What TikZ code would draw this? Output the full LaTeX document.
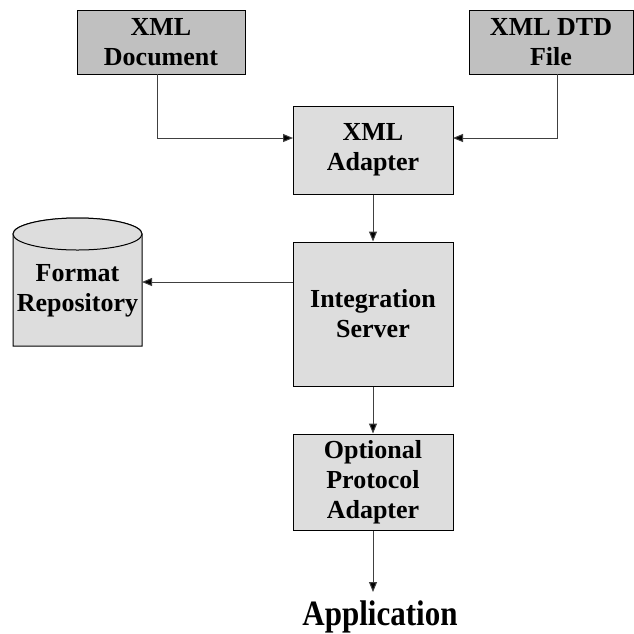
\documentclass[tikz,border=0pt]{standalone}
\usepackage{fontspec}
\usepackage{graphicx}
\setmainfont{Liberation Serif}
\usetikzlibrary{arrows.meta}
\definecolor{darkfill}{HTML}{C0C0C0}
\definecolor{lightfill}{HTML}{DDDDDD}
\definecolor{linegray}{HTML}{404040}
\begin{document}
\begin{tikzpicture}[x=1pt,y=-1pt,
  boxfont/.style={font=\bfseries\fontsize{26}{30}\selectfont},
  srcbox/.style={draw=black,line width=1pt,fill=darkfill,inner sep=0pt,align=center,boxfont},
  procbox/.style={draw=black,line width=1pt,fill=lightfill,inner sep=0pt,align=center,boxfont},
  conn/.style={draw=linegray,line width=1pt,-{Triangle[length=10pt,width=8pt,fill=black]}},
]
\useasboundingbox (0,0) rectangle (634,633);
\fill[white] (0,0) rectangle (634,633);

\node[srcbox,minimum width=168pt,minimum height=64pt] (doc) at (161,42) {XML\\Document};
\node[srcbox,minimum width=164pt,minimum height=64pt] (dtd) at (551,42) {XML DTD\\File};
\node[procbox,minimum width=160pt,minimum height=88pt] (adp) at (373,150) {XML\\Adapter};
\node[procbox,minimum width=160pt,minimum height=144pt] (int) at (373,314) {Integration\\Server};
\node[procbox,minimum width=160pt,minimum height=96pt] (opt) at (373,482) {Optional\\Protocol\\Adapter};

% cylinder
\filldraw[fill=lightfill,draw=black,line width=1pt]
  (13,234) -- (13,346) -- (142,346) -- (142,234)
  arc[start angle=0,end angle=-180,x radius=64.5pt,y radius=-16pt] -- cycle;
\draw[line width=1pt,fill=lightfill] (77.5,234) ellipse[x radius=64.5pt,y radius=16pt];
\node[boxfont,align=center,inner sep=0pt] (repo) at (77.5,291) {Format\\Repository};

\node[font=\bfseries\fontsize{31}{36}\selectfont,anchor=base,inner sep=0pt] (app) at (380,625) {\scalebox{1}[1.15]{Application}};

% connector anchors
\coordinate (docout) at (157,74);
\coordinate (dtdout) at (557,74);
\coordinate (adpinL) at (293,138);
\coordinate (adpinR) at (453,138);
\coordinate (intoutL) at (293,282);
\coordinate (repoin) at (142,282);
\coordinate (appin) at (373,592);

\draw[conn] (docout) |- (adpinL);
\draw[conn] (dtdout) |- (adpinR);
\draw[conn] (adp.south) -- (int.north);
\draw[conn] (intoutL) -- (repoin);
\draw[conn] (int.south) -- (opt.north);
\draw[conn] (opt.south) -- (appin);
\end{tikzpicture}
\end{document}
